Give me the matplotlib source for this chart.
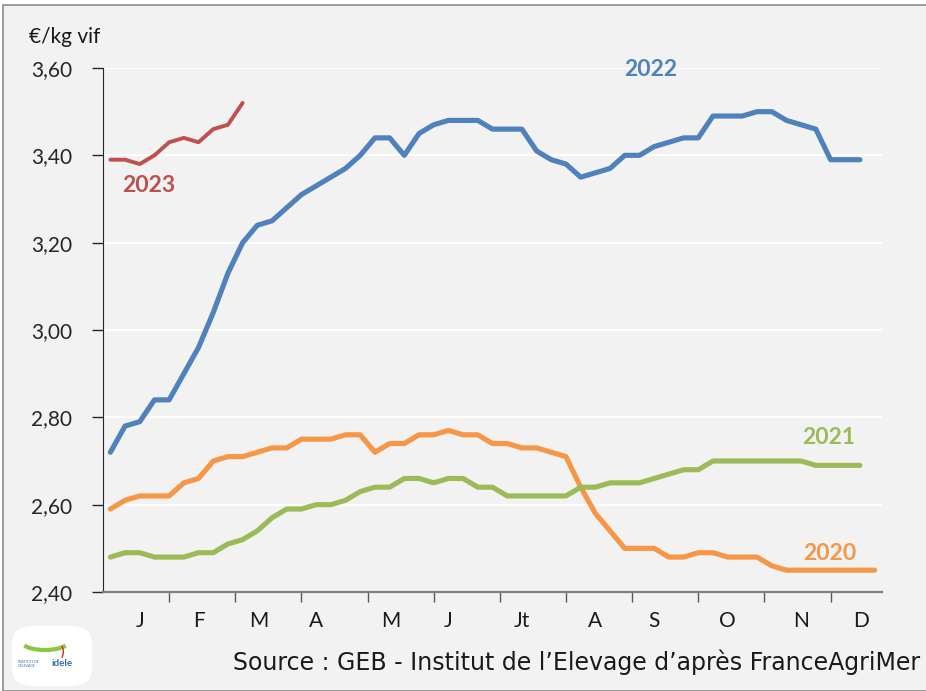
import matplotlib
matplotlib.use("Agg")
import matplotlib.pyplot as plt
from matplotlib.patches import Rectangle, FancyBboxPatch, Arc

plt.rcParams['font.family'] = ['Lato', 'DejaVu Sans']

# prix hebdomadaires (semaines 1..53), €/kg vif
prix_2020 = [2.59, 2.61, 2.62, 2.62, 2.62, 2.65, 2.66, 2.70, 2.71, 2.71,
             2.72, 2.73, 2.73, 2.75, 2.75, 2.75, 2.76, 2.76, 2.72, 2.74,
             2.74, 2.76, 2.76, 2.77, 2.76, 2.76, 2.74, 2.74, 2.73, 2.73,
             2.72, 2.71, 2.64, 2.58, 2.54, 2.50, 2.50, 2.50, 2.48, 2.48,
             2.49, 2.49, 2.48, 2.48, 2.48, 2.46, 2.45, 2.45, 2.45, 2.45,
             2.45, 2.45, 2.45]
prix_2021 = [2.48, 2.49, 2.49, 2.48, 2.48, 2.48, 2.49, 2.49, 2.51, 2.52,
             2.54, 2.57, 2.59, 2.59, 2.60, 2.60, 2.61, 2.63, 2.64, 2.64,
             2.66, 2.66, 2.65, 2.66, 2.66, 2.64, 2.64, 2.62, 2.62, 2.62,
             2.62, 2.62, 2.64, 2.64, 2.65, 2.65, 2.65, 2.66, 2.67, 2.68,
             2.68, 2.70, 2.70, 2.70, 2.70, 2.70, 2.70, 2.70, 2.69, 2.69,
             2.69, 2.69]
prix_2022 = [2.72, 2.78, 2.79, 2.84, 2.84, 2.90, 2.96, 3.04, 3.13, 3.20,
             3.24, 3.25, 3.28, 3.31, 3.33, 3.35, 3.37, 3.40, 3.44, 3.44,
             3.40, 3.45, 3.47, 3.48, 3.48, 3.48, 3.46, 3.46, 3.46, 3.41,
             3.39, 3.38, 3.35, 3.36, 3.37, 3.40, 3.40, 3.42, 3.43, 3.44,
             3.44, 3.49, 3.49, 3.49, 3.50, 3.50, 3.48, 3.47, 3.46, 3.39,
             3.39, 3.39]
prix_2023 = [3.39, 3.39, 3.38, 3.40, 3.43, 3.44, 3.43, 3.46, 3.47, 3.52]

mois = ['J', 'F', 'M', 'A', 'M', 'J', 'Jt', 'A', 'S', 'O', 'N', 'D']
y_ticks = [2.40, 2.60, 2.80, 3.00, 3.20, 3.40, 3.60]

# positions des libellés de mois (en semaines)
mois_pos = [2, 6, 10.1, 14, 19.1, 23, 28, 33, 37, 42, 47, 51.1]

bleu = '#4f81bd'
orange = '#f79646'
vert = '#9bbb59'
rouge = '#c0504d'
fond = '#f2f2f2'

fig = plt.figure(figsize=(9.26, 6.91), dpi=100)
fig.patch.set_facecolor('white')
fig.patches.append(Rectangle((3 / 926, 0), 1, 1 - 5 / 691, transform=fig.transFigure,
                             facecolor=fond, edgecolor='#8c8c8c', lw=1.2, zorder=-10))

ax = fig.add_axes([103 / 926, 99 / 691, 779 / 926, 524 / 691])
ax.set_facecolor(fond)

style = dict(solid_capstyle='round', solid_joinstyle='round')
ax.plot(range(len(prix_2020)), prix_2020, color=orange, lw=3.7, **style)
ax.plot(range(len(prix_2021)), prix_2021, color=vert, lw=3.7, **style)
ax.plot(range(len(prix_2022)), prix_2022, color=bleu, lw=3.7, **style)
ax.plot(range(len(prix_2023)), prix_2023, color=rouge, lw=2.8, **style)

ax.set_xlim(-0.5, 52.5)
ax.set_ylim(2.40, 3.60)

ax.set_yticks(y_ticks)
ax.set_yticklabels([f"{v:.2f}".replace('.', ',') for v in y_ticks], fontsize=15, color='#262626')
ax.yaxis.grid(True, color='white', lw=1.3)
ax.set_axisbelow(True)

# graduations tous les 4,5 semaines
ax.set_xticks([-0.5 + 4.5 * k for k in range(1, 12)])
ax.set_xticklabels([])
ax.tick_params(axis='x', direction='out', length=7, color='#595959', width=1)
ax.tick_params(axis='y', direction='out', length=8, color='#262626', width=1, pad=14)

for s in ['top', 'right']:
    ax.spines[s].set_visible(False)
ax.spines['left'].set_color('#262626')
ax.spines['bottom'].set_color('#808080')
ax.spines['bottom'].set_linewidth(1.6)

for m, p in zip(mois, mois_pos):
    ax.text(p, -0.055, m, transform=ax.get_xaxis_transform(), ha='center', va='center',
            fontsize=15, color='#1a1a1a')

fig.text(29 / 926, 1 - 37 / 691, '€/kg vif', ha='left', va='center', fontsize=15, color='#1a1a1a')

# étiquettes des séries
fig.text(651 / 926, 1 - 69 / 691, '2022', color=bleu, fontsize=16.5, fontweight='bold', ha='center', va='center')
fig.text(149 / 926, 1 - 185 / 691, '2023', color=rouge, fontsize=16.5, fontweight='bold', ha='center', va='center')
fig.text(829 / 926, 1 - 438 / 691, '2021', color=vert, fontsize=16.5, fontweight='bold', ha='center', va='center')
fig.text(830 / 926, 1 - 554 / 691, '2020', color=orange, fontsize=16.5, fontweight='bold', ha='center', va='center')

fig.text(920 / 926, 1 - 662 / 691, 'Source : GEB - Institut de l’Elevage d’après FranceAgriMer',
         ha='right', va='center', fontsize=17, color='#1a1a1a', family='DejaVu Sans')

# logo simplifié
logo = FancyBboxPatch((12 / 926, 1 - 686 / 691), 80 / 926, 60 / 691,
                      boxstyle='round,pad=0.0,rounding_size=0.025',
                      transform=fig.transFigure, facecolor='white', edgecolor='none')
fig.patches.append(logo)
fig.text(52 / 926, 1 - 664 / 691, 'idele', color='#2e6db4', fontsize=7, fontweight='bold', ha='left', va='center')
fig.text(18 / 926, 1 - 664 / 691, "INSTITUT DE\nL'ÉLEVAGE", color='#2e6db4', fontsize=2.5, ha='left', va='center')
fig.patches.append(Arc((45 / 926, 1 - 640 / 691), 50 / 926, 20 / 691, theta1=200, theta2=340,
                       transform=fig.transFigure, color='#8dc63f', lw=3))
fig.text(62 / 926, 1 - 652 / 691, ')', color='#e2231a', fontsize=9, fontweight='bold', ha='center', va='center')

fig.savefig('out.png', dpi=100, facecolor=fig.get_facecolor())
